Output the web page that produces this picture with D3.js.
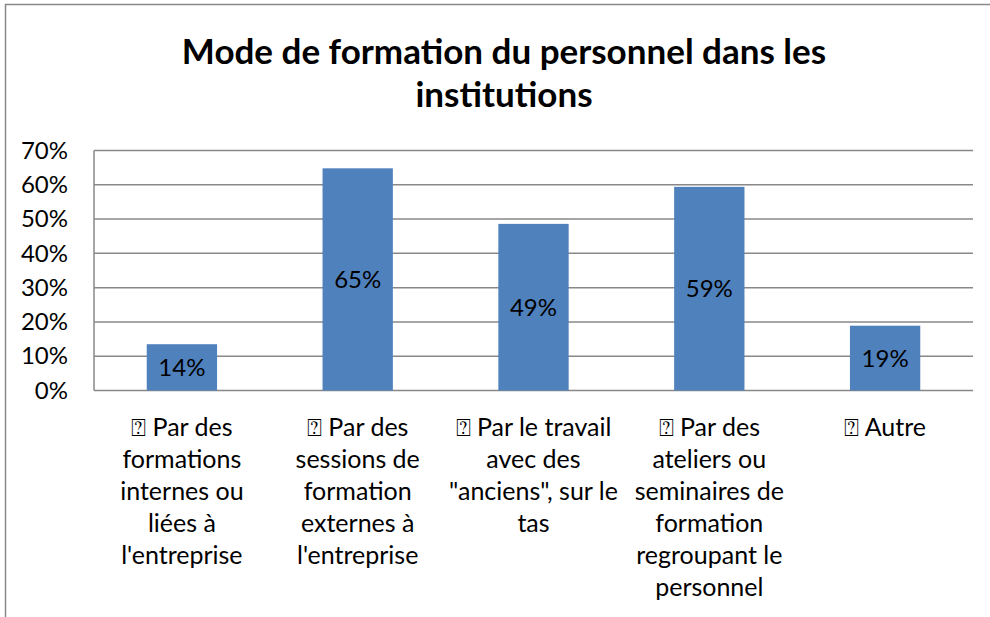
<!DOCTYPE html>
<html>
<head>
<meta charset="utf-8">
<script src="https://cdn.jsdelivr.net/npm/d3@7"></script>
<style>
  body { margin: 0; background: #fff; }
  svg { display: block; font-family: Lato, "Open Sans", sans-serif; }
</style>
</head>
<body>
<svg width="990" height="617"></svg>
<script>
const svg = d3.select("svg");

const titleLines = ["Mode de formation du personnel dans les", "institutions"];

// categories, with line breaks as in the original
const categories = [
    "\u2370 Par des\nformations\ninternes ou\nliées à\nl'entreprise",
    "\u2370 Par des\nsessions de\nformation\nexternes à\nl'entreprise",
    "\u2370 Par le travail\navec des\n\"anciens\", sur le\ntas",
    "\u2370 Par des\nateliers ou\nseminaires de\nformation\nregroupant le\npersonnel",
    "\u2370 Autre"
];
const values = [0.135, 0.648, 0.486, 0.594, 0.189];
const yTicks = [0, 0.1, 0.2, 0.3, 0.4, 0.5, 0.6, 0.7];

const plot = { left: 94, right: 973, top: 150.5, bottom: 390.5 };

// chart frame
svg.append("path")
    .attr("d", "M5.5,617 V4.5 H990")
    .attr("fill", "none")
    .attr("stroke", "#888")
    .attr("stroke-width", 1.5);

// title
svg.append("text")
    .attr("text-anchor", "middle")
    .attr("font-weight", "bold")
    .attr("font-size", 35)
    .attr("fill", "#000")
    .selectAll("tspan").data(titleLines)
    .enter().append("tspan")
    .attr("x", 504)
    .attr("y", (d, i) => 64 + i * 43)
    .text(d => d);

const x = d3.scaleBand()
    .domain(d3.range(categories.length))
    .range([plot.left, plot.right]);

const y = d3.scaleLinear()
    .domain([0, 0.7])
    .range([plot.bottom, plot.top]);

// gridlines
svg.append("g")
    .selectAll("line").data(yTicks)
    .enter().append("line")
    .attr("x1", plot.left)
    .attr("x2", plot.right)
    .attr("y1", d => y(d))
    .attr("y2", d => y(d))
    .attr("stroke", "#888")
    .attr("stroke-width", 1.5);

// y axis line
svg.append("line")
    .attr("x1", plot.left).attr("x2", plot.left)
    .attr("y1", plot.top).attr("y2", plot.bottom)
    .attr("stroke", "#888")
    .attr("stroke-width", 1.5);

// y tick labels
const yAxis = d3.axisLeft(y)
    .tickValues(yTicks)
    .tickFormat(d3.format(".0%"))
    .tickSize(0)
    .tickPadding(26);

svg.append("g")
    .attr("transform", `translate(${plot.left},0)`)
    .call(yAxis)
    .call(g => g.select(".domain").remove())
    .call(g => g.selectAll("text")
        .attr("font-size", 24)
        .attr("font-family", "Lato, 'Open Sans', sans-serif")
        .attr("fill", "#000"));

const barW = x.bandwidth() * 0.4;

// bars
svg.append("g")
    .selectAll("rect").data(values)
    .enter().append("rect")
    .attr("x", (d, i) => x(i) + (x.bandwidth() - barW) / 2)
    .attr("y", d => y(d))
    .attr("width", barW)
    .attr("height", d => y(0) - y(d))
    .attr("fill", "#4F81BD");

// value labels
svg.append("g")
    .selectAll("text").data(values)
    .enter().append("text")
    .attr("x", (d, i) => x(i) + x.bandwidth() / 2)
    .attr("y", d => (y(d) + y(0)) / 2)
    .attr("dy", "0.35em")
    .attr("text-anchor", "middle")
    .attr("font-size", 24)
    .attr("fill", "#000")
    .text(d => d3.format(".0%")(d));

// category labels
svg.append("g")
    .selectAll("text").data(categories)
    .enter().append("text")
    .attr("text-anchor", "middle")
    .attr("font-size", 25)
    .attr("fill", "#000")
    .each(function (d, i) {
        d3.select(this).selectAll("tspan").data(d.split("\n"))
            .enter().append("tspan")
            .attr("x", x(i) + x.bandwidth() / 2)
            .attr("y", (t, j) => 436 + j * 32)
            .text(t => t);
    });
</script>
</body>
</html>
